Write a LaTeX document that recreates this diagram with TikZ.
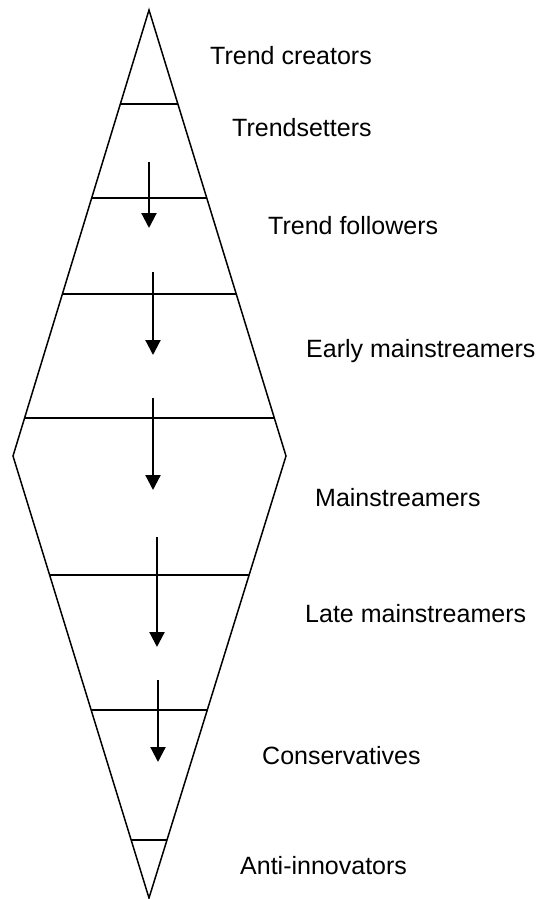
\documentclass[tikz,border=0pt]{standalone}
\usepackage{fontspec}
\setmainfont{Liberation Sans}
\usetikzlibrary{arrows.meta}
\begin{document}
\begin{tikzpicture}[x=1pt,y=-1pt,
  outline/.style={line width=1.5pt,line join=miter},
  divider/.style={line width=1.3pt},
  flow/.style={line width=2.2pt,-{Triangle[length=15pt,width=15pt]}},
  label/.style={anchor=base west,inner sep=0pt,font=\fontsize{25}{30}\selectfont}]
\useasboundingbox (0,0) rectangle (552,899);

% outer diamond
\coordinate (top) at (149,10);
\coordinate (left) at (13,456);
\coordinate (bottom) at (149,898);
\coordinate (right) at (286,456);
\draw[outline] (top) -- (left) -- (bottom) -- (right) -- cycle;

% horizontal dividers, clipped to the diamond
\begin{scope}
  \clip (top) -- (left) -- (bottom) -- (right) -- cycle;
  \foreach \yy in {104,198,294,418,575,710,840}
    \draw[divider] (0,\yy) -- (300,\yy);
\end{scope}

% downward arrows
\coordinate (a1s) at (149,162); \coordinate (a1e) at (149,228);
\coordinate (a2s) at (153,272); \coordinate (a2e) at (153,355);
\coordinate (a3s) at (153,398); \coordinate (a3e) at (153,490);
\coordinate (a4s) at (157,537); \coordinate (a4e) at (157,647);
\coordinate (a5s) at (158,680); \coordinate (a5e) at (158,762);
\draw[flow] (a1s) -- (a1e);
\draw[flow] (a2s) -- (a2e);
\draw[flow] (a3s) -- (a3e);
\draw[flow] (a4s) -- (a4e);
\draw[flow] (a5s) -- (a5e);

% group labels
\node[label] (l1) at (210,65)  {Trend creators};
\node[label] (l2) at (232,136) {Trendsetters};
\node[label] (l3) at (268,234) {Trend followers};
\node[label] (l4) at (306,357) {Early mainstreamers};
\node[label] (l5) at (315,506) {Mainstreamers};
\node[label] (l6) at (305,622) {Late mainstreamers};
\node[label] (l7) at (262,764) {Conservatives};
\node[label] (l8) at (240,874) {Anti-innovators};
\end{tikzpicture}
\end{document}
